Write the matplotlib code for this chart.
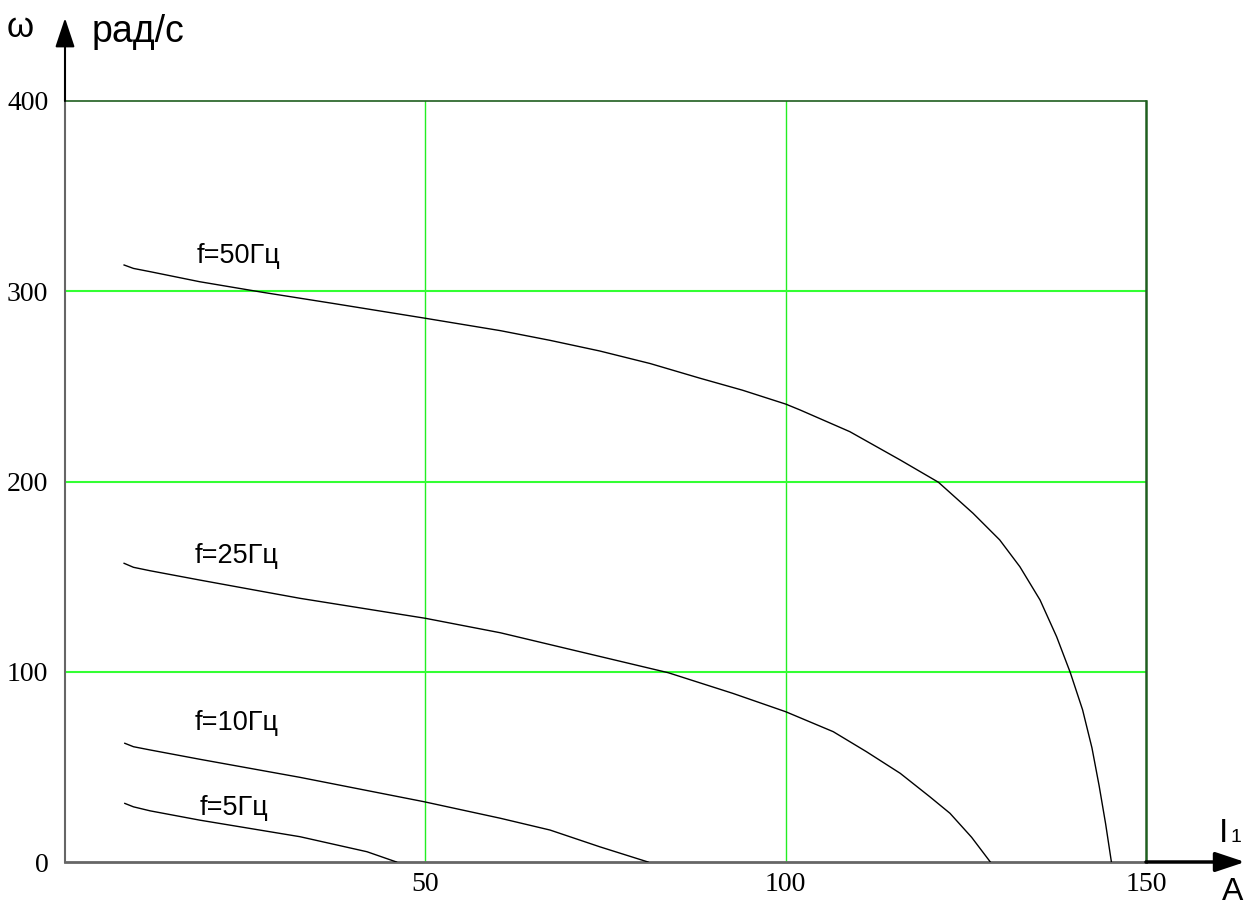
import matplotlib
matplotlib.use("Agg")
import matplotlib.pyplot as plt

# readings: current I1 (A) vs speed omega (rad/s)
x_50 = [8.2, 9.5, 11.8, 18.7, 27.5, 37.2, 50, 60.4, 67.3, 74.2, 81.2, 88.1, 94.0, 100,
        102.0, 108.9, 115.9, 121.2, 126.0, 129.7, 132.5, 135.3, 137.6, 139.5,
        141.2, 142.5, 143.5, 144.4, 145.2]
y_50 = [313.8, 312.0, 310.3, 305.0, 299.4, 293.6, 285.8, 279.3, 274.2, 268.6, 262.0, 254.3, 248.0, 240.7,
        237.6, 226.2, 211.3, 199.6, 183.3, 169.3, 155.2, 137.7, 118.4, 99.5,
        80, 60, 40, 20, 0]

x_25 = [8.2, 9.5, 11.8, 18.7, 32.6, 50, 60.4, 69.6, 83.7, 92.7, 100, 106.6, 111.2,
        115.9, 120, 122.8, 125.8, 128.4]
y_25 = [157, 154.9, 153.1, 148.2, 138.6, 128.1, 120.5, 112.2, 99.5, 88.6, 79, 68.5, 58,
        46.6, 34.3, 25.6, 13, 0]

x_10 = [8.3, 9.5, 11.8, 18.7, 32.6, 49.8, 60.4, 67.3, 74.2, 80.9]
y_10 = [62.4, 60.6, 58.9, 54, 44.5, 31.7, 23, 16.8, 8, 0]

x_5 = [8.3, 9.5, 11.8, 18.7, 32.6, 41.9, 46]
y_5 = [30.8, 29.0, 26.9, 22, 13.3, 5.4, 0]

labels = ["f=50Гц", "f=25Гц", "f=10Гц", "f=5Гц"]
label_x = [18.3, 18.0, 18.0, 18.7]
label_y = [318.5, 160.8, 73, 28.4]

x_ticks = [50, 100, 150]
y_ticks = [0, 100, 200, 300, 400]

W, H = 1246, 906
fig = plt.figure(figsize=(W / 100, H / 100), dpi=100)
ax = fig.add_axes([65 / W, (H - 862) / H, 1081 / W, 761 / H])

for xs, ys in [(x_50, y_50), (x_25, y_25), (x_10, y_10), (x_5, y_5)]:
    ax.plot(xs, ys, color="black", lw=1.0, zorder=3)

for t, lx, ly in zip(labels, label_x, label_y):
    ax.text(lx, ly, t, fontsize=19.5, family="Liberation Sans", va="center", ha="left")

ax.set_xlim(0, 150)
ax.set_ylim(0, 400)

# green grid
for v in x_ticks[:-1]:
    ax.axvline(v, color="#22ee22", lw=1.0, zorder=1)
for v in y_ticks[1:-1]:
    ax.axhline(v, color="#33ff33", lw=1.5, zorder=1)

ax.set_xticks(x_ticks)
ax.set_yticks(y_ticks)
ax.tick_params(length=0)
ax.tick_params(axis="x", pad=7)
ax.tick_params(axis="y", pad=12)
for lab in ax.get_xticklabels() + ax.get_yticklabels():
    lab.set_family("Liberation Serif")
    lab.set_fontsize(20)

ax.spines["left"].set_color("#666666")
ax.spines["left"].set_linewidth(1.5)
ax.spines["bottom"].set_color("#666666")
ax.spines["bottom"].set_linewidth(2)
ax.spines["top"].set_color("#1f5f1f")
ax.spines["top"].set_linewidth(1.2)
ax.spines["right"].set_color("#1f5f1f")
ax.spines["right"].set_linewidth(1.8)

# axis arrows
ax.annotate("", xy=(0, 1.109), xytext=(0, 1.0), xycoords="axes fraction",
            arrowprops=dict(arrowstyle="-|>,head_length=1.8,head_width=0.6",
                            color="black", lw=1.5, shrinkA=0, shrinkB=0),
            annotation_clip=False)
ax.annotate("", xy=(1.0916, 0), xytext=(1.0, 0), xycoords="axes fraction",
            arrowprops=dict(arrowstyle="-|>,head_length=1.8,head_width=0.6",
                            color="black", lw=2.5, shrinkA=0, shrinkB=0),
            annotation_clip=False)

# axis titles
fig.text(20 / W, 1 - 37 / H, "ω", fontsize=25, family="Liberation Sans", ha="center", va="baseline")
fig.text(92 / W, 1 - 42 / H, "рад/с", fontsize=27, family="Liberation Sans", ha="left", va="baseline")
fig.text(1219 / W, 1 - 842 / H, "I", fontsize=24, family="Liberation Sans", ha="left", va="baseline")
fig.text(1231 / W, 1 - 842 / H, "1", fontsize=14, family="Liberation Sans", ha="left", va="baseline")
fig.text(1222 / W, 1 - 900 / H, "A", fontsize=23, family="Liberation Sans", ha="left", va="baseline")

fig.savefig("out.png", dpi=100)
